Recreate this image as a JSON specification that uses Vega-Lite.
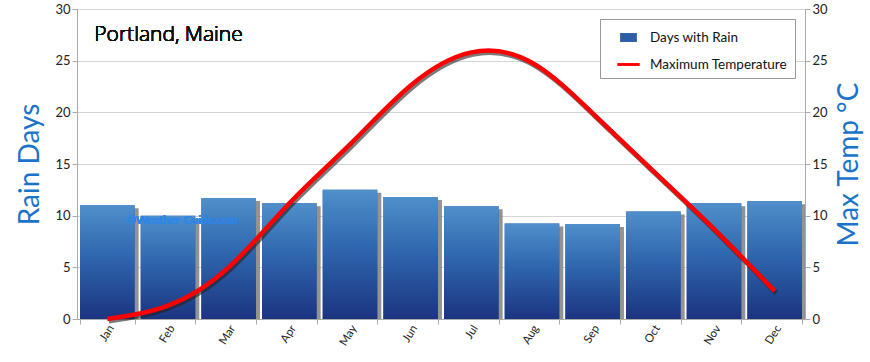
{
  "$schema": "https://vega.github.io/schema/vega-lite/v6.json",
  "width": 728,
  "height": 310,
  "autosize": {"type": "none"},
  "padding": {"left": 77, "top": 9, "right": 65, "bottom": 43},
  "background": "white",
  "config": {
    "view": {"stroke": null},
    "font": "Lato",
    "axis": {"labelFont": "Lato", "titleFont": "Lato"}
  },
  "data": {
    "values": [
      {"month": "Jan", "rain": 11.0, "temp": 0.0, "rs": "Days with Rain"},
      {"month": "Feb", "rain": 10.0, "temp": 1.3, "rs": "Days with Rain"},
      {"month": "Mar", "rain": 11.7, "temp": 5.0, "rs": "Days with Rain"},
      {"month": "Apr", "rain": 11.2, "temp": 11.2, "rs": "Days with Rain"},
      {"month": "May", "rain": 12.5, "temp": 16.9, "rs": "Days with Rain"},
      {"month": "Jun", "rain": 11.8, "temp": 22.6, "rs": "Days with Rain"},
      {"month": "Jul", "rain": 10.9, "temp": 25.8, "rs": "Days with Rain"},
      {"month": "Aug", "rain": 9.25, "temp": 24.8, "rs": "Days with Rain"},
      {"month": "Sep", "rain": 9.2, "temp": 19.9, "rs": "Days with Rain"},
      {"month": "Oct", "rain": 10.4, "temp": 14.3, "rs": "Days with Rain"},
      {"month": "Nov", "rain": 11.2, "temp": 8.7, "rs": "Days with Rain"},
      {"month": "Dec", "rain": 11.4, "temp": 2.7, "rs": "Days with Rain"}
    ]
  },
  "encoding": {
    "x": {
      "field": "month",
      "type": "ordinal",
      "sort": null,
      "scale": {"paddingInner": 0.1, "paddingOuter": 0.05},
      "axis": {
        "title": null,
        "labelAngle": -58,
        "labelAlign": "right",
        "labelBaseline": "middle",
        "labelFontSize": 11.5,
        "labelColor": "#222",
        "labelPadding": 2,
        "labelOffset": 4,
        "tickBand": "extent",
        "tickColor": "#aaa",
        "tickSize": 5,
        "domainColor": "#aaa"
      }
    }
  },
  "layer": [
    {
      "encoding": {
        "y": {
          "field": "rain",
          "type": "quantitative",
          "scale": {"domain": [0, 30]},
          "axis": {
            "title": "Rain Days",
            "titleFontSize": 28,
            "titleFontWeight": "normal",
            "titleColor": "#1a73c9",
            "titlePadding": 10,
            "values": [0, 5, 10, 15, 20, 25, 30],
            "labelFontSize": 13,
            "labelColor": "#222",
            "gridColor": "#d4d4d4",
            "tickColor": "#aaa",
            "tickSize": 5,
            "domainColor": "#aaa"
          }
        }
      },
      "layer": [
        {
          "mark": {"type": "bar", "color": "#808080", "opacity": 0.85, "xOffset": 4, "yOffset": 3, "clip": true}
        },
        {
          "mark": {"type": "bar"},
          "encoding": {
            "color": {
              "field": "rs",
              "type": "nominal",
              "scale": {"domain": ["Days with Rain", "Maximum Temperature"], "range": ["#2d5ea8", "#ff0000"]},
              "legend": {
                "title": null,
                "orient": "top-right",
                "offset": 10,
                "fillColor": "white",
                "strokeColor": "#999",
                "padding": 7,
                "labelFontSize": 13.5,
                "labelColor": "#111",
                "labelOffset": 10,
                "symbolOffset": 10,
                "rowPadding": 9,
                "symbolSize": 500,
                "encode": {
                  "symbols": {
                    "update": {
                      "shape": {"signal": "datum.value == 'Maximum Temperature' ? 'M-1,-0.13H1V0.13H-1Z' : 'M-0.75,-0.4H0.75V0.4H-0.75Z'"},
                      "fill": {"signal": "datum.value == 'Maximum Temperature' ? '#ff0000' : '#2d5ea8'"},
                      "stroke": {"value": "transparent"},
                      "strokeWidth": {"value": 0},
                      "opacity": {"value": 1}
                    }
                  }
                }
              }
            }
          }
        },
        {
          "mark": {
            "type": "bar",
            "fill": {
              "gradient": "linear",
              "x1": 0, "y1": 0, "x2": 0, "y2": 1,
              "stops": [
                {"offset": 0, "color": "#4f8fca"},
                {"offset": 0.45, "color": "#2f66ae"},
                {"offset": 1, "color": "#1b3480"}
              ]
            }
          }
        },
        {
          "mark": {"type": "text", "align": "left", "baseline": "middle", "font": "Open Sans", "fontSize": 21, "fontWeight": 300, "color": "#111", "dx": -13},
          "encoding": {
            "x": {"datum": "Jan"},
            "y": {"datum": 27.5},
            "text": {"value": "Portland, Maine"}
          }
        },
        {
          "mark": {"type": "text", "align": "left", "baseline": "middle", "fontSize": 11.5, "color": "#2f86e6", "dx": 19},
          "encoding": {
            "x": {"datum": "Jan"},
            "y": {"datum": 9.45},
            "text": {"value": "©Weather-Guide.com"}
          }
        }
      ]
    },
    {
      "encoding": {
        "y": {
          "field": "temp",
          "type": "quantitative",
          "scale": {"domain": [0, 30]},
          "axis": {
            "orient": "right",
            "title": "Max Temp °C",
            "titleFontSize": 28,
            "titleFontWeight": "normal",
            "titleColor": "#1a73c9",
            "titleAngle": 270,
            "titleBaseline": "top",
            "titlePadding": 8,
            "values": [0, 5, 10, 15, 20, 25, 30],
            "labelFontSize": 13,
            "labelColor": "#222",
            "grid": false,
            "tickColor": "#aaa",
            "tickSize": 5,
            "domainColor": "#aaa"
          }
        }
      },
      "layer": [
        {
          "mark": {"type": "line", "interpolate": "natural", "color": "#222", "opacity": 0.6, "strokeWidth": 5, "xOffset": 1.5, "yOffset": 2}
        },
        {
          "mark": {"type": "line", "interpolate": "natural", "color": "#ff0000", "strokeWidth": 4.5}
        }
      ]
    }
  ],
  "resolve": {"scale": {"y": "independent"}}
}
